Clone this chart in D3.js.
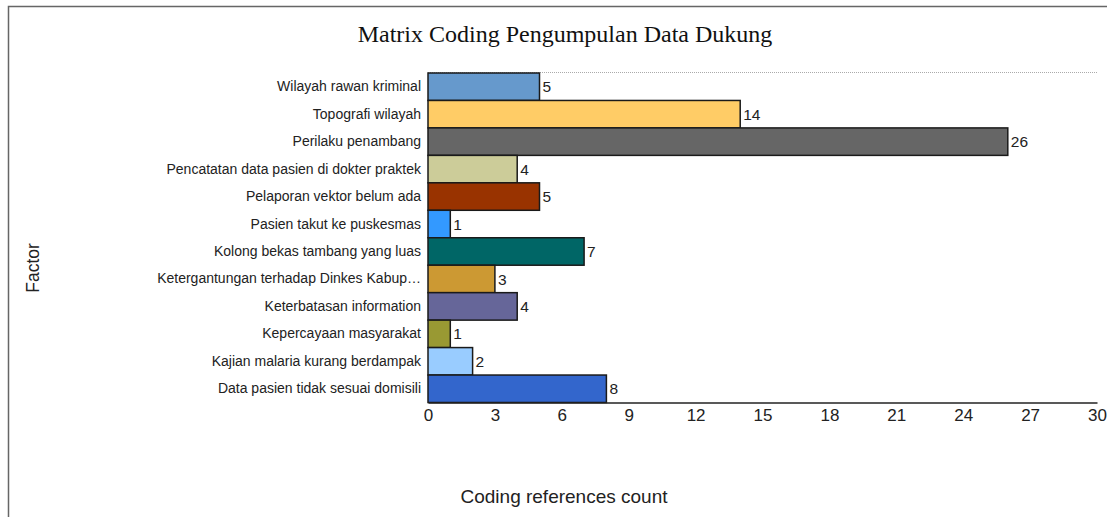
<!DOCTYPE html>
<html><head><meta charset="utf-8">
<script src="https://cdn.jsdelivr.net/npm/d3@7"></script>
<style>body{margin:0;background:#fff;}svg{display:block;}</style>
</head><body>
<script>
const categories = ["Wilayah rawan kriminal","Topografi wilayah","Perilaku penambang","Pencatatan data pasien di dokter praktek","Pelaporan vektor belum ada","Pasien takut ke puskesmas","Kolong bekas tambang yang luas","Ketergantungan terhadap Dinkes Kabup\u2026","Keterbatasan information","Kepercayaan masyarakat","Kajian malaria kurang berdampak","Data pasien tidak sesuai domisili"];
const values = [5,14,26,4,5,1,7,3,4,1,2,8];
const colors = ["#6699CC","#FFCC66","#666666","#CCCC99","#993300","#3399FF","#006666","#CC9933","#666699","#999933","#99CCFF","#3366CC"];
const xTicks = [0,3,6,9,12,15,18,21,24,27,30];

const W=1107,H=517;
const svg=d3.select("body").append("svg").attr("width",W).attr("height",H);
// frame
svg.append("rect").attr("x",8.5).attr("y",6.5).attr("width",W+20).attr("height",H+20)
  .attr("fill","none").attr("stroke","#666").attr("stroke-width",1.5);

const L=428,R=1097,T=73,B=402.5;
const x=d3.scaleLinear().domain([0,30]).range([L,R]);
const y=d3.scaleBand().domain(categories).range([T,B]).padding(0);

svg.append("text").attr("x",565).attr("y",42).attr("text-anchor","middle")
  .attr("font-family","Liberation Serif, Times New Roman, serif").attr("font-size",24).attr("fill","#111")
  .text("Matrix Coding Pengumpulan Data Dukung");

// dotted top line
svg.append("line").attr("x1",L).attr("x2",R).attr("y1",T-0.5).attr("y2",T-0.5)
  .attr("stroke","#aaa").attr("stroke-dasharray","1,1").attr("stroke-width",1);

svg.selectAll("rect.bar").data(values).join("rect").attr("class","bar")
  .attr("x",x(0)).attr("y",(d,i)=>y(categories[i]))
  .attr("width",d=>x(d)-x(0)).attr("height",y.bandwidth())
  .attr("fill",(d,i)=>colors[i]).attr("stroke","#1a1a1a").attr("stroke-width",1.5);

svg.selectAll("text.val").data(values).join("text").attr("class","val")
  .attr("x",d=>x(d)+3).attr("y",(d,i)=>y(categories[i])+y.bandwidth()/2)
  .attr("dy","0.36em").attr("font-family","Liberation Sans, Arial, sans-serif").attr("font-size",15.5).attr("fill","#222")
  .text(d=>d);

const yAxis=svg.append("g").attr("transform",`translate(${L},0)`)
  .call(d3.axisLeft(y).tickSize(0).tickPadding(7));
yAxis.select(".domain").remove();
yAxis.selectAll("text").attr("font-family","Liberation Sans, Arial, sans-serif").attr("font-size",14).attr("fill","#222");

const xAxis=svg.append("g").attr("transform",`translate(0,${B})`)
  .call(d3.axisBottom(x).tickValues(xTicks).tickSize(0).tickPadding(6));
xAxis.select(".domain").attr("stroke","#222").attr("stroke-width",1.5);
xAxis.selectAll("text").attr("font-family","Liberation Sans, Arial, sans-serif").attr("font-size",17).attr("fill","#222");

svg.append("text").attr("x",564).attr("y",503).attr("text-anchor","middle")
  .attr("font-family","Liberation Sans, Arial, sans-serif").attr("font-size",19).attr("fill","#222")
  .text("Coding references count");
svg.append("text").attr("transform","translate(39,268) rotate(-90)").attr("text-anchor","middle")
  .attr("font-family","Liberation Sans, Arial, sans-serif").attr("font-size",17.5).attr("fill","#222")
  .text("Factor");
</script>
</body></html>
